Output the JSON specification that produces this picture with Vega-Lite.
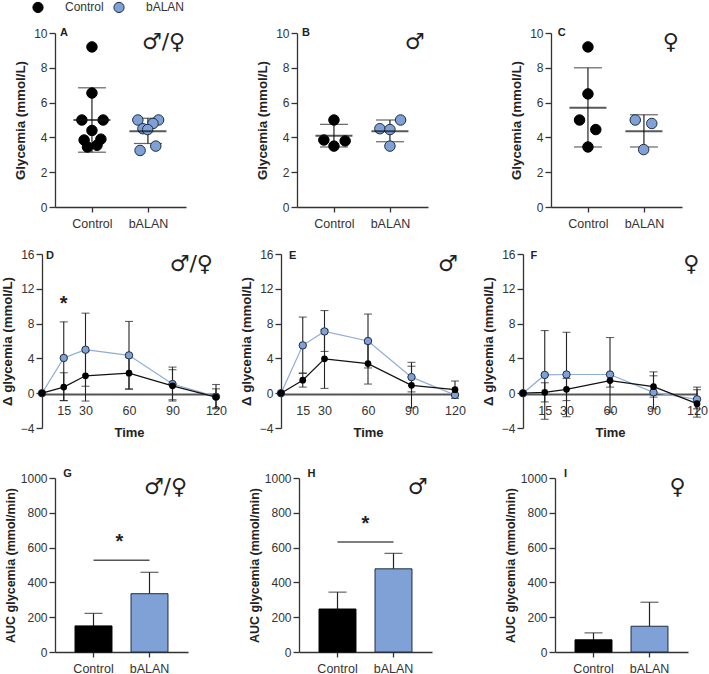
{"$schema":"https://vega.github.io/schema/vega-lite/v6.json","padding":{"left":0,"top":1,"right":0,"bottom":0},"background":"white","bounds":"flush","align":"each","columns":3,"spacing":{"row":47,"column":100},
"config":{"view":{"stroke":null},"font":"Liberation Sans","axis":{"grid":false,"labelFont":"Liberation Sans","titleFont":"Liberation Sans","labelColor":"#333333","titleColor":"#222222","domainColor":"#333333","tickColor":"#333333","domainWidth":1.3,"tickWidth":1.3,"labelFontSize":12,"titleFontSize":13.3,"labelFontWeight":"normal","titleFontWeight":"bold"}},
"datasets":{
"pts":[
{"panel":"A","group":"Control","x":0.66,"v":9.2},{"panel":"A","group":"Control","x":0.66,"v":6.55},{"panel":"A","group":"Control","x":0.48,"v":5.0},{"panel":"A","group":"Control","x":0.86,"v":5.0},{"panel":"A","group":"Control","x":0.66,"v":4.4},{"panel":"A","group":"Control","x":0.52,"v":3.85},{"panel":"A","group":"Control","x":0.82,"v":3.9},{"panel":"A","group":"Control","x":0.58,"v":3.45},{"panel":"A","group":"Control","x":0.75,"v":3.55},
{"panel":"A","group":"bALAN","x":1.48,"v":5.0},{"panel":"A","group":"bALAN","x":1.85,"v":5.0},{"panel":"A","group":"bALAN","x":1.75,"v":4.8},{"panel":"A","group":"bALAN","x":1.57,"v":4.5},{"panel":"A","group":"bALAN","x":1.655,"v":4.45},{"panel":"A","group":"bALAN","x":1.52,"v":3.25},{"panel":"A","group":"bALAN","x":1.8,"v":3.5},
{"panel":"B","group":"Control","x":0.66,"v":5.0},{"panel":"B","group":"Control","x":0.48,"v":3.85},{"panel":"B","group":"Control","x":0.86,"v":3.8},{"panel":"B","group":"Control","x":0.66,"v":3.5},
{"panel":"B","group":"bALAN","x":1.85,"v":5.0},{"panel":"B","group":"bALAN","x":1.48,"v":4.5},{"panel":"B","group":"bALAN","x":1.66,"v":4.45},{"panel":"B","group":"bALAN","x":1.66,"v":3.5},
{"panel":"C","group":"Control","x":0.66,"v":9.2},{"panel":"C","group":"Control","x":0.66,"v":6.5},{"panel":"C","group":"Control","x":0.51,"v":5.0},{"panel":"C","group":"Control","x":0.8,"v":4.45},{"panel":"C","group":"Control","x":0.66,"v":3.45},
{"panel":"C","group":"bALAN","x":1.505,"v":5.0},{"panel":"C","group":"bALAN","x":1.8,"v":4.8},{"panel":"C","group":"bALAN","x":1.655,"v":3.3}],
"sum":[
{"panel":"A","group":"Control","x":0.66,"mean":5.0,"lo":3.15,"hi":6.85},{"panel":"A","group":"bALAN","x":1.66,"mean":4.35,"lo":3.65,"hi":5.1},
{"panel":"B","group":"Control","x":0.66,"mean":4.1,"lo":3.45,"hi":4.75},{"panel":"B","group":"bALAN","x":1.66,"mean":4.35,"lo":3.75,"hi":5.0},
{"panel":"C","group":"Control","x":0.66,"mean":5.7,"lo":3.45,"hi":8.0},{"panel":"C","group":"bALAN","x":1.66,"mean":4.35,"lo":3.45,"hi":5.3}],
"ts":[
{"panel":"D","group":"bALAN","time":0,"mean":0},{"panel":"D","group":"bALAN","time":15,"mean":4.05,"lo":-0.85,"hi":8.2},{"panel":"D","group":"bALAN","time":30,"mean":5.0,"lo":0.8,"hi":9.2},{"panel":"D","group":"bALAN","time":60,"mean":4.35,"lo":0.45,"hi":8.25},{"panel":"D","group":"bALAN","time":90,"mean":1.05,"lo":-0.75,"hi":3.0},{"panel":"D","group":"bALAN","time":120,"mean":-0.4,"lo":-1.8,"hi":1.0},
{"panel":"D","group":"Control","time":0,"mean":0},{"panel":"D","group":"Control","time":15,"mean":0.7,"lo":-0.85,"hi":2.35},{"panel":"D","group":"Control","time":30,"mean":2.0,"lo":-0.9,"hi":4.8},{"panel":"D","group":"Control","time":60,"mean":2.3,"lo":0.5,"hi":4.1},{"panel":"D","group":"Control","time":90,"mean":0.85,"lo":-0.9,"hi":2.7},{"panel":"D","group":"Control","time":120,"mean":-0.45,"lo":-1.7,"hi":0.5},
{"panel":"E","group":"bALAN","time":0,"mean":0},{"panel":"E","group":"bALAN","time":15,"mean":5.5,"lo":2.3,"hi":8.75},{"panel":"E","group":"bALAN","time":30,"mean":7.1,"lo":4.8,"hi":9.5},{"panel":"E","group":"bALAN","time":60,"mean":6.0,"lo":2.9,"hi":9.1},{"panel":"E","group":"bALAN","time":90,"mean":1.85,"lo":0.15,"hi":3.55},{"panel":"E","group":"bALAN","time":120,"mean":-0.2},
{"panel":"E","group":"Control","time":0,"mean":0},{"panel":"E","group":"Control","time":15,"mean":1.5,"lo":0.7,"hi":2.3},{"panel":"E","group":"Control","time":30,"mean":3.95,"lo":0.55,"hi":7.3},{"panel":"E","group":"Control","time":60,"mean":3.4,"lo":1.05,"hi":5.7},{"panel":"E","group":"Control","time":90,"mean":0.9,"lo":-1.7,"hi":3.1},{"panel":"E","group":"Control","time":120,"mean":0.4,"lo":-0.6,"hi":1.4},
{"panel":"F","group":"bALAN","time":0,"mean":0},{"panel":"F","group":"bALAN","time":15,"mean":2.1,"lo":-3.0,"hi":7.2},{"panel":"F","group":"bALAN","time":30,"mean":2.15,"lo":-2.7,"hi":7.0},{"panel":"F","group":"bALAN","time":60,"mean":2.15,"lo":-2.2,"hi":6.4},{"panel":"F","group":"bALAN","time":90,"mean":0.1,"lo":-1.8,"hi":2.0},{"panel":"F","group":"bALAN","time":120,"mean":-0.7,"lo":-1.8,"hi":0.4},
{"panel":"F","group":"Control","time":0,"mean":0},{"panel":"F","group":"Control","time":15,"mean":0.1,"lo":-1.0,"hi":1.2},{"panel":"F","group":"Control","time":30,"mean":0.45,"lo":-0.85,"hi":1.7},{"panel":"F","group":"Control","time":60,"mean":1.45,"lo":0.7,"hi":2.2},{"panel":"F","group":"Control","time":90,"mean":0.75,"lo":-0.45,"hi":2.45},{"panel":"F","group":"Control","time":120,"mean":-1.2,"lo":-2.75,"hi":0.7}],
"auc":[
{"panel":"G","group":"Control","mean":150,"hi":222},{"panel":"G","group":"bALAN","mean":335,"hi":458},
{"panel":"H","group":"Control","mean":247,"hi":344},{"panel":"H","group":"bALAN","mean":478,"hi":567},
{"panel":"I","group":"Control","mean":70,"hi":110},{"panel":"I","group":"bALAN","mean":148,"hi":286}],
"sig":[{"panel":"G","group":"Control","to":"bALAN","v":527},{"panel":"H","group":"Control","to":"bALAN","v":632}],
"notes":[
{"panel":"A","kind":"letter","label":"A","x":0.16,"v":10},{"panel":"A","kind":"sex","label":"♂/♀","x":1.94,"v":9.5},
{"panel":"B","kind":"letter","label":"B","x":0.16,"v":10},{"panel":"B","kind":"sex","label":"♂","x":2.1,"v":9.5},
{"panel":"C","kind":"letter","label":"C","x":0.19,"v":10},{"panel":"C","kind":"sex","label":"♀","x":2.14,"v":9.5},
{"panel":"D","kind":"letter","label":"D","time":5.5,"v":15.8},{"panel":"D","kind":"sex","label":"♂/♀","time":103,"v":14.9},{"panel":"D","kind":"star","label":"*","time":15,"v":10.2},
{"panel":"E","kind":"letter","label":"E","time":8,"v":15.8},{"panel":"E","kind":"sex","label":"♂","time":115,"v":14.9},
{"panel":"F","kind":"letter","label":"F","time":7.5,"v":15.8},{"panel":"F","kind":"sex","label":"♀","time":116,"v":14.9},
{"panel":"G","kind":"letter","label":"G","group":"Control","v":1023},{"panel":"G","kind":"sex","label":"♂/♀","group":"Control","v":950},{"panel":"G","kind":"star","label":"*","group":"Control","v":632},
{"panel":"H","kind":"letter","label":"H","group":"Control","v":1023},{"panel":"H","kind":"sex","label":"♂","group":"Control","v":950},{"panel":"H","kind":"star","label":"*","group":"Control","v":735},
{"panel":"I","kind":"letter","label":"I","group":"Control","v":1023},{"panel":"I","kind":"sex","label":"♀","group":"Control","v":950}]
},
"concat":[
{"width":142,"height":174,"encoding":{"x":{"field":"x","type":"quantitative","scale":{"domain":[0,2.34],"range":[0,131],"nice":false},"axis":{"values":[0.66,1.66],"labelExpr":"datum.value<1?'Control':'bALAN'","title":null,"tickSize":5,"labelPadding":5,"labelFontSize":12.5}}},
"layer":[
{"data":{"name":"sum"},"transform":[{"filter":"datum.panel==='A'"}],"mark":{"type":"rule","color":"#222","strokeWidth":1.2},"encoding":{"y":{"field":"lo","type":"quantitative","scale":{"domain":[0,10],"nice":false},"axis":{"values":[0,2,4,6,8,10],"tickCount":6,"title":"Glycemia (mmol/L)","titleX":-28,"tickSize":6,"labelPadding":2}},"y2":{"field":"hi"}}},
{"data":{"name":"sum"},"transform":[{"filter":"datum.panel==='A'"}],"mark":{"type":"tick","orient":"horizontal","color":"#222","size":28,"thickness":1.2},"encoding":{"y":{"field":"hi","type":"quantitative","scale":{"domain":[0,10],"nice":false}}}},
{"data":{"name":"sum"},"transform":[{"filter":"datum.panel==='A'"}],"mark":{"type":"tick","orient":"horizontal","color":"#222","size":28,"thickness":1.2},"encoding":{"y":{"field":"lo","type":"quantitative","scale":{"domain":[0,10],"nice":false}}}},
{"data":{"name":"pts"},"transform":[{"filter":"datum.panel==='A'"}],"mark":{"type":"circle","size":110,"opacity":1,"strokeWidth":1},"encoding":{"y":{"field":"v","type":"quantitative","scale":{"domain":[0,10],"nice":false}},"color":{"field":"group","type":"nominal","scale":{"domain":["Control","bALAN"],"range":["#000000","#7fa1d6"]},"legend":{"orient":"none","legendX":-23,"legendY":-32,"direction":"horizontal","title":null,"labelFontSize":12,"labelColor":"#333333","labelOffset":21,"columnPadding":7,"symbolSize":105,"symbolStrokeWidth":1,"symbolOpacity":1}},"stroke":{"field":"group","type":"nominal","scale":{"domain":["Control","bALAN"],"range":["#000000","#1f2d44"]}}}},
{"data":{"name":"sum"},"transform":[{"filter":"datum.panel==='A'"}],"mark":{"type":"tick","orient":"horizontal","color":"#111","size":37,"thickness":2},"encoding":{"y":{"field":"mean","type":"quantitative","scale":{"domain":[0,10],"nice":false}}}},
{"data":{"name":"notes"},"transform":[{"filter":"datum.panel==='A'&&datum.kind==='sex'"}],"mark":{"type":"text","font":"DejaVu Sans","fontSize":22,"color":"#222"},"encoding":{"y":{"field":"v","type":"quantitative","scale":{"domain":[0,10],"nice":false}},"text":{"field":"label"}}},
{"data":{"name":"notes"},"transform":[{"filter":"datum.panel==='A'&&datum.kind==='letter'"}],"mark":{"type":"text","fontSize":11,"fontWeight":"bold","color":"#222"},"encoding":{"y":{"field":"v","type":"quantitative","scale":{"domain":[0,10],"nice":false}},"text":{"field":"label"}}}
]},
{"width":154,"height":174,"encoding":{"x":{"field":"x","type":"quantitative","scale":{"domain":[0,2.34],"range":[0,131],"nice":false},"axis":{"values":[0.66,1.66],"labelExpr":"datum.value<1?'Control':'bALAN'","title":null,"tickSize":5,"labelPadding":5,"labelFontSize":12.5}}},
"layer":[
{"data":{"name":"sum"},"transform":[{"filter":"datum.panel==='B'"}],"mark":{"type":"rule","color":"#222","strokeWidth":1.2},"encoding":{"y":{"field":"lo","type":"quantitative","scale":{"domain":[0,10],"nice":false},"axis":{"values":[0,2,4,6,8,10],"tickCount":6,"title":"Glycemia (mmol/L)","titleX":-28,"tickSize":6,"labelPadding":2}},"y2":{"field":"hi"}}},
{"data":{"name":"sum"},"transform":[{"filter":"datum.panel==='B'"}],"mark":{"type":"tick","orient":"horizontal","color":"#222","size":28,"thickness":1.2},"encoding":{"y":{"field":"hi","type":"quantitative","scale":{"domain":[0,10],"nice":false}}}},
{"data":{"name":"sum"},"transform":[{"filter":"datum.panel==='B'"}],"mark":{"type":"tick","orient":"horizontal","color":"#222","size":28,"thickness":1.2},"encoding":{"y":{"field":"lo","type":"quantitative","scale":{"domain":[0,10],"nice":false}}}},
{"data":{"name":"pts"},"transform":[{"filter":"datum.panel==='B'"}],"mark":{"type":"circle","size":110,"opacity":1,"strokeWidth":1},"encoding":{"y":{"field":"v","type":"quantitative","scale":{"domain":[0,10],"nice":false}},"color":{"field":"group","type":"nominal","scale":{"domain":["Control","bALAN"],"range":["#000000","#7fa1d6"]},"legend":null},"stroke":{"field":"group","type":"nominal","scale":{"domain":["Control","bALAN"],"range":["#000000","#1f2d44"]},"legend":null}}},
{"data":{"name":"sum"},"transform":[{"filter":"datum.panel==='B'"}],"mark":{"type":"tick","orient":"horizontal","color":"#111","size":37,"thickness":2},"encoding":{"y":{"field":"mean","type":"quantitative","scale":{"domain":[0,10],"nice":false}}}},
{"data":{"name":"notes"},"transform":[{"filter":"datum.panel==='B'&&datum.kind==='sex'"}],"mark":{"type":"text","font":"DejaVu Sans","fontSize":22,"color":"#222"},"encoding":{"y":{"field":"v","type":"quantitative","scale":{"domain":[0,10],"nice":false}},"text":{"field":"label"}}},
{"data":{"name":"notes"},"transform":[{"filter":"datum.panel==='B'&&datum.kind==='letter'"}],"mark":{"type":"text","fontSize":11,"fontWeight":"bold","color":"#222"},"encoding":{"y":{"field":"v","type":"quantitative","scale":{"domain":[0,10],"nice":false}},"text":{"field":"label"}}}
]},
{"width":140,"height":174,"encoding":{"x":{"field":"x","type":"quantitative","scale":{"domain":[0,2.34],"range":[0,131],"nice":false},"axis":{"values":[0.66,1.66],"labelExpr":"datum.value<1?'Control':'bALAN'","title":null,"tickSize":5,"labelPadding":5,"labelFontSize":12.5}}},
"layer":[
{"data":{"name":"sum"},"transform":[{"filter":"datum.panel==='C'"}],"mark":{"type":"rule","color":"#222","strokeWidth":1.2},"encoding":{"y":{"field":"lo","type":"quantitative","scale":{"domain":[0,10],"nice":false},"axis":{"values":[0,2,4,6,8,10],"tickCount":6,"title":"Glycemia (mmol/L)","titleX":-28,"tickSize":6,"labelPadding":2}},"y2":{"field":"hi"}}},
{"data":{"name":"sum"},"transform":[{"filter":"datum.panel==='C'"}],"mark":{"type":"tick","orient":"horizontal","color":"#222","size":28,"thickness":1.2},"encoding":{"y":{"field":"hi","type":"quantitative","scale":{"domain":[0,10],"nice":false}}}},
{"data":{"name":"sum"},"transform":[{"filter":"datum.panel==='C'"}],"mark":{"type":"tick","orient":"horizontal","color":"#222","size":28,"thickness":1.2},"encoding":{"y":{"field":"lo","type":"quantitative","scale":{"domain":[0,10],"nice":false}}}},
{"data":{"name":"pts"},"transform":[{"filter":"datum.panel==='C'"}],"mark":{"type":"circle","size":110,"opacity":1,"strokeWidth":1},"encoding":{"y":{"field":"v","type":"quantitative","scale":{"domain":[0,10],"nice":false}},"color":{"field":"group","type":"nominal","scale":{"domain":["Control","bALAN"],"range":["#000000","#7fa1d6"]},"legend":null},"stroke":{"field":"group","type":"nominal","scale":{"domain":["Control","bALAN"],"range":["#000000","#1f2d44"]},"legend":null}}},
{"data":{"name":"sum"},"transform":[{"filter":"datum.panel==='C'"}],"mark":{"type":"tick","orient":"horizontal","color":"#111","size":37,"thickness":2},"encoding":{"y":{"field":"mean","type":"quantitative","scale":{"domain":[0,10],"nice":false}}}},
{"data":{"name":"notes"},"transform":[{"filter":"datum.panel==='C'&&datum.kind==='sex'"}],"mark":{"type":"text","font":"DejaVu Sans","fontSize":22,"color":"#222"},"encoding":{"y":{"field":"v","type":"quantitative","scale":{"domain":[0,10],"nice":false}},"text":{"field":"label"}}},
{"data":{"name":"notes"},"transform":[{"filter":"datum.panel==='C'&&datum.kind==='letter'"}],"mark":{"type":"text","fontSize":11,"fontWeight":"bold","color":"#222"},"encoding":{"y":{"field":"v","type":"quantitative","scale":{"domain":[0,10],"nice":false}},"text":{"field":"label"}}}
]},
{"width":142,"height":177,"encoding":{"x":{"field":"time","type":"quantitative","scale":{"domain":[0,120],"range":[-13,161],"nice":false},"axis":{"values":[15,30,60,90,120],"title":"Time","titleFontSize":13,"titleY":32,"offset":-37,"ticks":false,"labelFlush":false,"domainColor":"#555555","domainWidth":2,"labelPadding":10,"labelFontSize":12.5}}},
"layer":[
{"data":{"name":"ts"},"transform":[{"filter":"datum.panel==='D'&&datum.time>0"}],"mark":{"type":"rule","color":"#222","strokeWidth":1.1},"encoding":{"y":{"field":"lo","type":"quantitative","scale":{"domain":[-4,16],"range":[174,0],"nice":false},"axis":{"values":[-4,0,4,8,12,16],"tickCount":6,"title":"Δ glycemia (mmol/L)","titleX":-28,"titleFontSize":13.2,"offset":13,"tickSize":6,"labelPadding":2}},"y2":{"field":"hi"}}},
{"data":{"name":"ts"},"transform":[{"filter":"datum.panel==='D'&&datum.time>0"}],"mark":{"type":"tick","orient":"horizontal","color":"#222","size":8,"thickness":1.1},"encoding":{"y":{"field":"hi","type":"quantitative","scale":{"domain":[-4,16],"range":[174,0],"nice":false}}}},
{"data":{"name":"ts"},"transform":[{"filter":"datum.panel==='D'&&datum.time>0"}],"mark":{"type":"tick","orient":"horizontal","color":"#222","size":8,"thickness":1.1},"encoding":{"y":{"field":"lo","type":"quantitative","scale":{"domain":[-4,16],"range":[174,0],"nice":false}}}},
{"data":{"name":"ts"},"transform":[{"filter":"datum.panel==='D'&&datum.group==='bALAN'"}],"mark":{"type":"line","color":"#8fabd6","strokeWidth":1.2,"point":{"filled":true,"size":55,"color":"#7fa1d6","stroke":"#1f2d44","strokeWidth":1}},"encoding":{"y":{"field":"mean","type":"quantitative","scale":{"domain":[-4,16],"range":[174,0],"nice":false}}}},
{"data":{"name":"ts"},"transform":[{"filter":"datum.panel==='D'&&datum.group==='Control'"}],"mark":{"type":"line","color":"#111111","strokeWidth":1.2,"point":{"filled":true,"size":45,"color":"#000000"}},"encoding":{"y":{"field":"mean","type":"quantitative","scale":{"domain":[-4,16],"range":[174,0],"nice":false}}}},
{"data":{"name":"notes"},"transform":[{"filter":"datum.panel==='D'&&datum.kind==='sex'"}],"mark":{"type":"text","font":"DejaVu Sans","fontSize":22,"color":"#222"},"encoding":{"y":{"field":"v","type":"quantitative","scale":{"domain":[-4,16],"range":[174,0],"nice":false}},"text":{"field":"label"}}},
{"data":{"name":"notes"},"transform":[{"filter":"datum.panel==='D'&&datum.kind==='letter'"}],"mark":{"type":"text","fontSize":11,"fontWeight":"bold","color":"#222"},"encoding":{"y":{"field":"v","type":"quantitative","scale":{"domain":[-4,16],"range":[174,0],"nice":false}},"text":{"field":"label"}}},
{"data":{"name":"notes"},"transform":[{"filter":"datum.panel==='D'&&datum.kind==='star'"}],"mark":{"type":"text","fontSize":20,"fontWeight":"bold","color":"#222"},"encoding":{"y":{"field":"v","type":"quantitative","scale":{"domain":[-4,16],"range":[174,0],"nice":false}},"text":{"field":"label"}}}
]},
{"width":154,"height":177,"encoding":{"x":{"field":"time","type":"quantitative","scale":{"domain":[0,120],"range":[-16,158],"nice":false},"axis":{"values":[15,30,60,90,120],"title":"Time","titleFontSize":13,"titleY":32,"offset":-37,"ticks":false,"labelFlush":false,"domainColor":"#555555","domainWidth":2,"labelPadding":10,"labelFontSize":12.5}}},
"layer":[
{"data":{"name":"ts"},"transform":[{"filter":"datum.panel==='E'&&datum.time>0"}],"mark":{"type":"rule","color":"#222","strokeWidth":1.1},"encoding":{"y":{"field":"lo","type":"quantitative","scale":{"domain":[-4,16],"range":[174,0],"nice":false},"axis":{"values":[-4,0,4,8,12,16],"tickCount":6,"title":"Δ glycemia (mmol/L)","titleX":-28,"titleFontSize":13.2,"offset":16,"tickSize":6,"labelPadding":2}},"y2":{"field":"hi"}}},
{"data":{"name":"ts"},"transform":[{"filter":"datum.panel==='E'&&datum.time>0"}],"mark":{"type":"tick","orient":"horizontal","color":"#222","size":8,"thickness":1.1},"encoding":{"y":{"field":"hi","type":"quantitative","scale":{"domain":[-4,16],"range":[174,0],"nice":false}}}},
{"data":{"name":"ts"},"transform":[{"filter":"datum.panel==='E'&&datum.time>0"}],"mark":{"type":"tick","orient":"horizontal","color":"#222","size":8,"thickness":1.1},"encoding":{"y":{"field":"lo","type":"quantitative","scale":{"domain":[-4,16],"range":[174,0],"nice":false}}}},
{"data":{"name":"ts"},"transform":[{"filter":"datum.panel==='E'&&datum.group==='bALAN'"}],"mark":{"type":"line","color":"#8fabd6","strokeWidth":1.2,"point":{"filled":true,"size":55,"color":"#7fa1d6","stroke":"#1f2d44","strokeWidth":1}},"encoding":{"y":{"field":"mean","type":"quantitative","scale":{"domain":[-4,16],"range":[174,0],"nice":false}}}},
{"data":{"name":"ts"},"transform":[{"filter":"datum.panel==='E'&&datum.group==='Control'"}],"mark":{"type":"line","color":"#111111","strokeWidth":1.2,"point":{"filled":true,"size":45,"color":"#000000"}},"encoding":{"y":{"field":"mean","type":"quantitative","scale":{"domain":[-4,16],"range":[174,0],"nice":false}}}},
{"data":{"name":"notes"},"transform":[{"filter":"datum.panel==='E'&&datum.kind==='sex'"}],"mark":{"type":"text","font":"DejaVu Sans","fontSize":22,"color":"#222"},"encoding":{"y":{"field":"v","type":"quantitative","scale":{"domain":[-4,16],"range":[174,0],"nice":false}},"text":{"field":"label"}}},
{"data":{"name":"notes"},"transform":[{"filter":"datum.panel==='E'&&datum.kind==='letter'"}],"mark":{"type":"text","fontSize":11,"fontWeight":"bold","color":"#222"},"encoding":{"y":{"field":"v","type":"quantitative","scale":{"domain":[-4,16],"range":[174,0],"nice":false}},"text":{"field":"label"}}}
]},
{"width":140,"height":177,"encoding":{"x":{"field":"time","type":"quantitative","scale":{"domain":[0,120],"range":[-28,146],"nice":false},"axis":{"values":[15,30,60,90,120],"title":"Time","titleFontSize":13,"titleY":32,"offset":-37,"ticks":false,"labelFlush":false,"domainColor":"#555555","domainWidth":2,"labelPadding":10,"labelFontSize":12.5}}},
"layer":[
{"data":{"name":"ts"},"transform":[{"filter":"datum.panel==='F'&&datum.time>0"}],"mark":{"type":"rule","color":"#222","strokeWidth":1.1},"encoding":{"y":{"field":"lo","type":"quantitative","scale":{"domain":[-4,16],"range":[174,0],"nice":false},"axis":{"values":[-4,0,4,8,12,16],"tickCount":6,"title":"Δ glycemia (mmol/L)","titleX":-28,"titleFontSize":13.2,"offset":28,"tickSize":6,"labelPadding":2}},"y2":{"field":"hi"}}},
{"data":{"name":"ts"},"transform":[{"filter":"datum.panel==='F'&&datum.time>0"}],"mark":{"type":"tick","orient":"horizontal","color":"#222","size":8,"thickness":1.1},"encoding":{"y":{"field":"hi","type":"quantitative","scale":{"domain":[-4,16],"range":[174,0],"nice":false}}}},
{"data":{"name":"ts"},"transform":[{"filter":"datum.panel==='F'&&datum.time>0"}],"mark":{"type":"tick","orient":"horizontal","color":"#222","size":8,"thickness":1.1},"encoding":{"y":{"field":"lo","type":"quantitative","scale":{"domain":[-4,16],"range":[174,0],"nice":false}}}},
{"data":{"name":"ts"},"transform":[{"filter":"datum.panel==='F'&&datum.group==='bALAN'"}],"mark":{"type":"line","color":"#8fabd6","strokeWidth":1.2,"point":{"filled":true,"size":55,"color":"#7fa1d6","stroke":"#1f2d44","strokeWidth":1}},"encoding":{"y":{"field":"mean","type":"quantitative","scale":{"domain":[-4,16],"range":[174,0],"nice":false}}}},
{"data":{"name":"ts"},"transform":[{"filter":"datum.panel==='F'&&datum.group==='Control'"}],"mark":{"type":"line","color":"#111111","strokeWidth":1.2,"point":{"filled":true,"size":45,"color":"#000000"}},"encoding":{"y":{"field":"mean","type":"quantitative","scale":{"domain":[-4,16],"range":[174,0],"nice":false}}}},
{"data":{"name":"notes"},"transform":[{"filter":"datum.panel==='F'&&datum.kind==='sex'"}],"mark":{"type":"text","font":"DejaVu Sans","fontSize":22,"color":"#222"},"encoding":{"y":{"field":"v","type":"quantitative","scale":{"domain":[-4,16],"range":[174,0],"nice":false}},"text":{"field":"label"}}},
{"data":{"name":"notes"},"transform":[{"filter":"datum.panel==='F'&&datum.kind==='letter'"}],"mark":{"type":"text","fontSize":11,"fontWeight":"bold","color":"#222"},"encoding":{"y":{"field":"v","type":"quantitative","scale":{"domain":[-4,16],"range":[174,0],"nice":false}},"text":{"field":"label"}}}
]},
{"width":142,"height":174,"encoding":{"x":{"field":"group","type":"nominal","scale":{"domain":["Control","bALAN"],"range":[0,133],"paddingInner":0.34,"paddingOuter":0.3575},"axis":{"title":null,"labelAngle":0,"tickSize":5,"labelPadding":5,"labelFontSize":12.5}}},
"layer":[
{"data":{"name":"auc"},"transform":[{"filter":"datum.panel==='G'"}],"mark":{"type":"rule","color":"#222","strokeWidth":1.2},"encoding":{"y":{"field":"mean","type":"quantitative","scale":{"domain":[0,1000],"nice":false},"axis":{"values":[0,200,400,600,800,1000],"tickCount":6,"format":"d","title":"AUC glycemia (mmol/min)","titleX":-38,"titleFontSize":12.5,"tickSize":6,"labelPadding":2}},"y2":{"field":"hi"}}},
{"data":{"name":"auc"},"transform":[{"filter":"datum.panel==='G'"}],"mark":{"type":"tick","orient":"horizontal","color":"#222","size":18,"thickness":1.2},"encoding":{"y":{"field":"hi","type":"quantitative","scale":{"domain":[0,1000],"nice":false}}}},
{"data":{"name":"auc"},"transform":[{"filter":"datum.panel==='G'"}],"mark":{"type":"bar","strokeWidth":1},"encoding":{"y":{"field":"mean","type":"quantitative","scale":{"domain":[0,1000],"nice":false}},"color":{"field":"group","type":"nominal","scale":{"domain":["Control","bALAN"],"range":["#000000","#85a5d6"]},"legend":null},"stroke":{"field":"group","type":"nominal","scale":{"domain":["Control","bALAN"],"range":["#000000","#3a4a66"]},"legend":null}}},
{"data":{"name":"sig"},"transform":[{"filter":"datum.panel==='G'"}],"mark":{"type":"rule","color":"#555","strokeWidth":1.5},"encoding":{"y":{"field":"v","type":"quantitative","scale":{"domain":[0,1000],"nice":false}},"x2":{"field":"to"}}},
{"data":{"name":"notes"},"transform":[{"filter":"datum.panel==='G'&&datum.kind==='sex'"}],"mark":{"type":"text","font":"DejaVu Sans","fontSize":22,"color":"#222","dx":72},"encoding":{"y":{"field":"v","type":"quantitative","scale":{"domain":[0,1000],"nice":false}},"text":{"field":"label"}}},
{"data":{"name":"notes"},"transform":[{"filter":"datum.panel==='G'&&datum.kind==='letter'"}],"mark":{"type":"text","fontSize":11,"fontWeight":"bold","color":"#222","dx":-26},"encoding":{"y":{"field":"v","type":"quantitative","scale":{"domain":[0,1000],"nice":false}},"text":{"field":"label"}}},
{"data":{"name":"notes"},"transform":[{"filter":"datum.panel==='G'&&datum.kind==='star'"}],"mark":{"type":"text","fontSize":20,"fontWeight":"bold","color":"#222","dx":26},"encoding":{"y":{"field":"v","type":"quantitative","scale":{"domain":[0,1000],"nice":false}},"text":{"field":"label"}}}
]},
{"width":154,"height":174,"encoding":{"x":{"field":"group","type":"nominal","scale":{"domain":["Control","bALAN"],"range":[2,135],"paddingInner":0.34,"paddingOuter":0.3575},"axis":{"title":null,"labelAngle":0,"tickSize":5,"labelPadding":5,"labelFontSize":12.5}}},
"layer":[
{"data":{"name":"auc"},"transform":[{"filter":"datum.panel==='H'"}],"mark":{"type":"rule","color":"#222","strokeWidth":1.2},"encoding":{"y":{"field":"mean","type":"quantitative","scale":{"domain":[0,1000],"nice":false},"axis":{"values":[0,200,400,600,800,1000],"tickCount":6,"format":"d","title":"AUC glycemia (mmol/min)","titleX":-38,"titleFontSize":12.5,"offset":-2,"tickSize":6,"labelPadding":2}},"y2":{"field":"hi"}}},
{"data":{"name":"auc"},"transform":[{"filter":"datum.panel==='H'"}],"mark":{"type":"tick","orient":"horizontal","color":"#222","size":18,"thickness":1.2},"encoding":{"y":{"field":"hi","type":"quantitative","scale":{"domain":[0,1000],"nice":false}}}},
{"data":{"name":"auc"},"transform":[{"filter":"datum.panel==='H'"}],"mark":{"type":"bar","strokeWidth":1},"encoding":{"y":{"field":"mean","type":"quantitative","scale":{"domain":[0,1000],"nice":false}},"color":{"field":"group","type":"nominal","scale":{"domain":["Control","bALAN"],"range":["#000000","#85a5d6"]},"legend":null},"stroke":{"field":"group","type":"nominal","scale":{"domain":["Control","bALAN"],"range":["#000000","#3a4a66"]},"legend":null}}},
{"data":{"name":"sig"},"transform":[{"filter":"datum.panel==='H'"}],"mark":{"type":"rule","color":"#555","strokeWidth":1.5},"encoding":{"y":{"field":"v","type":"quantitative","scale":{"domain":[0,1000],"nice":false}},"x2":{"field":"to"}}},
{"data":{"name":"notes"},"transform":[{"filter":"datum.panel==='H'&&datum.kind==='sex'"}],"mark":{"type":"text","font":"DejaVu Sans","fontSize":22,"color":"#222","dx":80},"encoding":{"y":{"field":"v","type":"quantitative","scale":{"domain":[0,1000],"nice":false}},"text":{"field":"label"}}},
{"data":{"name":"notes"},"transform":[{"filter":"datum.panel==='H'&&datum.kind==='letter'"}],"mark":{"type":"text","fontSize":11,"fontWeight":"bold","color":"#222","dx":-26},"encoding":{"y":{"field":"v","type":"quantitative","scale":{"domain":[0,1000],"nice":false}},"text":{"field":"label"}}},
{"data":{"name":"notes"},"transform":[{"filter":"datum.panel==='H'&&datum.kind==='star'"}],"mark":{"type":"text","fontSize":20,"fontWeight":"bold","color":"#222","dx":28},"encoding":{"y":{"field":"v","type":"quantitative","scale":{"domain":[0,1000],"nice":false}},"text":{"field":"label"}}}
]},
{"width":140,"height":174,"encoding":{"x":{"field":"group","type":"nominal","scale":{"domain":["Control","bALAN"],"range":[4,137],"paddingInner":0.34,"paddingOuter":0.3575},"axis":{"title":null,"labelAngle":0,"tickSize":5,"labelPadding":5,"labelFontSize":12.5}}},
"layer":[
{"data":{"name":"auc"},"transform":[{"filter":"datum.panel==='I'"}],"mark":{"type":"rule","color":"#222","strokeWidth":1.2},"encoding":{"y":{"field":"mean","type":"quantitative","scale":{"domain":[0,1000],"nice":false},"axis":{"values":[0,200,400,600,800,1000],"tickCount":6,"format":"d","title":"AUC glycemia (mmol/min)","titleX":-38,"titleFontSize":12.5,"offset":-4,"tickSize":6,"labelPadding":2}},"y2":{"field":"hi"}}},
{"data":{"name":"auc"},"transform":[{"filter":"datum.panel==='I'"}],"mark":{"type":"tick","orient":"horizontal","color":"#222","size":18,"thickness":1.2},"encoding":{"y":{"field":"hi","type":"quantitative","scale":{"domain":[0,1000],"nice":false}}}},
{"data":{"name":"auc"},"transform":[{"filter":"datum.panel==='I'"}],"mark":{"type":"bar","strokeWidth":1},"encoding":{"y":{"field":"mean","type":"quantitative","scale":{"domain":[0,1000],"nice":false}},"color":{"field":"group","type":"nominal","scale":{"domain":["Control","bALAN"],"range":["#000000","#85a5d6"]},"legend":null},"stroke":{"field":"group","type":"nominal","scale":{"domain":["Control","bALAN"],"range":["#000000","#3a4a66"]},"legend":null}}},
{"data":{"name":"notes"},"transform":[{"filter":"datum.panel==='I'&&datum.kind==='sex'"}],"mark":{"type":"text","font":"DejaVu Sans","fontSize":22,"color":"#222","dx":84},"encoding":{"y":{"field":"v","type":"quantitative","scale":{"domain":[0,1000],"nice":false}},"text":{"field":"label"}}},
{"data":{"name":"notes"},"transform":[{"filter":"datum.panel==='I'&&datum.kind==='letter'"}],"mark":{"type":"text","fontSize":11,"fontWeight":"bold","color":"#222","dx":-28},"encoding":{"y":{"field":"v","type":"quantitative","scale":{"domain":[0,1000],"nice":false}},"text":{"field":"label"}}}
]}
]}
